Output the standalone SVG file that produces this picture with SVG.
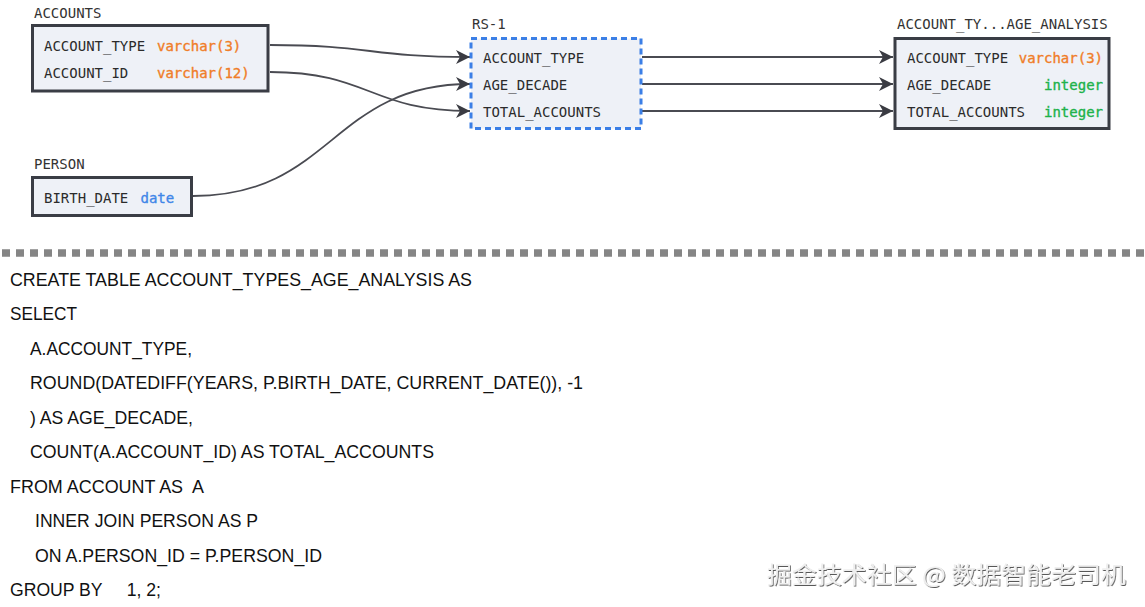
<svg xmlns="http://www.w3.org/2000/svg" width="1145" height="607" viewBox="0 0 1145 607">
<style>
.lbl{font-family:"DejaVu Sans Mono","Liberation Mono",monospace;font-size:14px;fill:#333}
.col{font-family:"DejaVu Sans Mono","Liberation Mono",monospace;font-size:14px;fill:#2b2b2b}
.vc{fill:#f07d28;stroke:#f07d28;stroke-width:0.35}
.dt{fill:#3f86e8;stroke:#3f86e8;stroke-width:0.35}
.int{fill:#20b24a;stroke:#20b24a;stroke-width:0.35}
.tbl{fill:#eef1f7;stroke:#3a3d45;stroke-width:3}
.rs{fill:#eef1f7;stroke:#3b7fe6;stroke-width:3;stroke-dasharray:6 4}
.conn{fill:none;stroke:#4a4b52;stroke-width:1.8;marker-end:url(#arr)}
.sql{font-family:"Liberation Sans",Arial,sans-serif;font-size:17.6px;fill:#111}
.wm{font-family:"Noto Sans CJK SC","Liberation Sans",sans-serif;font-size:23px;fill:#efefef;filter:url(#emb)}
</style>
<defs>
<marker id="arr" markerWidth="15" markerHeight="14" refX="14" refY="7" orient="auto" markerUnits="userSpaceOnUse">
<path d="M0,0 L14,7 L0,14 L4,7 z" fill="#3a3b42"/>
</marker>
<filter id="emb" x="-5%" y="-20%" width="110%" height="140%">
<feDropShadow dx="0.8" dy="1" stdDeviation="0.6" flood-color="#444" flood-opacity="0.9"/>
</filter>
<filter id="blur" filterUnits="userSpaceOnUse" x="0" y="240" width="1145" height="26">
<feGaussianBlur stdDeviation="0.7"/>
</filter>
</defs>
<rect width="1145" height="607" fill="#fff"/>

<g id="connectors">
<path class="conn" d="M270,45 C370,45 370,57 470,57"/>
<path class="conn" d="M270,72 C370,72 370,111 470,111"/>
<path class="conn" d="M193,196 C332,196 332,84 470,84"/>
<path class="conn" d="M642,57 L893,57"/>
<path class="conn" d="M642,84 L893,84"/>
<path class="conn" d="M642,111 L893,111"/>
</g>

<g id="accounts">
<text class="lbl" x="34" y="18">ACCOUNTS</text>
<rect class="tbl" x="32.5" y="25.5" width="235.5" height="65.5"/>
<text class="col" x="44" y="51">ACCOUNT_TYPE</text>
<text class="col vc" x="157" y="51">varchar(3)</text>
<text class="col" x="44" y="77.5">ACCOUNT_ID</text>
<text class="col vc" x="157" y="77.5">varchar(12)</text>
</g>

<g id="person">
<text class="lbl" x="34" y="168.5">PERSON</text>
<rect class="tbl" x="32.5" y="177.5" width="159" height="38"/>
<text class="col" x="44" y="202.5">BIRTH_DATE</text>
<text class="col dt" x="140.5" y="202.5">date</text>
</g>

<g id="rs-1">
<text class="lbl" x="472" y="28.5">RS-1</text>
<rect class="rs" x="471" y="38.5" width="170" height="90"/>
<text class="col" x="483" y="62.5">ACCOUNT_TYPE</text>
<text class="col" x="483" y="89.5">AGE_DECADE</text>
<text class="col" x="483" y="116.5">TOTAL_ACCOUNTS</text>
</g>

<g id="account_types_age_analysis">
<text class="lbl" x="897" y="29">ACCOUNT_TY...AGE_ANALYSIS</text>
<rect class="tbl" x="895" y="38.5" width="214" height="90"/>
<text class="col" x="907" y="62.5">ACCOUNT_TYPE</text>
<text class="col vc" x="1103" y="62.5" text-anchor="end">varchar(3)</text>
<text class="col" x="907" y="89.5">AGE_DECADE</text>
<text class="col int" x="1103" y="89.5" text-anchor="end">integer</text>
<text class="col" x="907" y="116.5">TOTAL_ACCOUNTS</text>
<text class="col int" x="1103" y="116.5" text-anchor="end">integer</text>
</g>

<path d="M2,253 H1145" stroke="#858585" stroke-width="7.5" stroke-dasharray="8 6" filter="url(#blur)"/>

<g id="sql">
<text class="sql" x="10" y="285.5" textLength="462" lengthAdjust="spacingAndGlyphs">CREATE TABLE ACCOUNT_TYPES_AGE_ANALYSIS AS</text>
<text class="sql" x="10" y="320" textLength="67" lengthAdjust="spacingAndGlyphs">SELECT</text>
<text class="sql" x="30" y="354.5" textLength="162" lengthAdjust="spacingAndGlyphs">A.ACCOUNT_TYPE,</text>
<text class="sql" x="30" y="389" textLength="553" lengthAdjust="spacingAndGlyphs">ROUND(DATEDIFF(YEARS, P.BIRTH_DATE, CURRENT_DATE()), -1</text>
<text class="sql" x="30" y="423.5" textLength="163" lengthAdjust="spacingAndGlyphs">) AS AGE_DECADE,</text>
<text class="sql" x="30" y="458" textLength="404" lengthAdjust="spacingAndGlyphs">COUNT(A.ACCOUNT_ID) AS TOTAL_ACCOUNTS</text>
<text class="sql" x="10" y="492.5" textLength="194" lengthAdjust="spacingAndGlyphs" xml:space="preserve">FROM ACCOUNT AS  A</text>
<text class="sql" x="35" y="527" textLength="223" lengthAdjust="spacingAndGlyphs">INNER JOIN PERSON AS P</text>
<text class="sql" x="35" y="561.5" textLength="287" lengthAdjust="spacingAndGlyphs">ON A.PERSON_ID = P.PERSON_ID</text>
<text class="sql" x="10" y="596" textLength="151" lengthAdjust="spacingAndGlyphs" xml:space="preserve">GROUP BY     1, 2;</text>
</g>

<text class="wm" x="767" y="583" textLength="359" lengthAdjust="spacingAndGlyphs">掘金技术社区 @ 数据智能老司机</text>
</svg>
